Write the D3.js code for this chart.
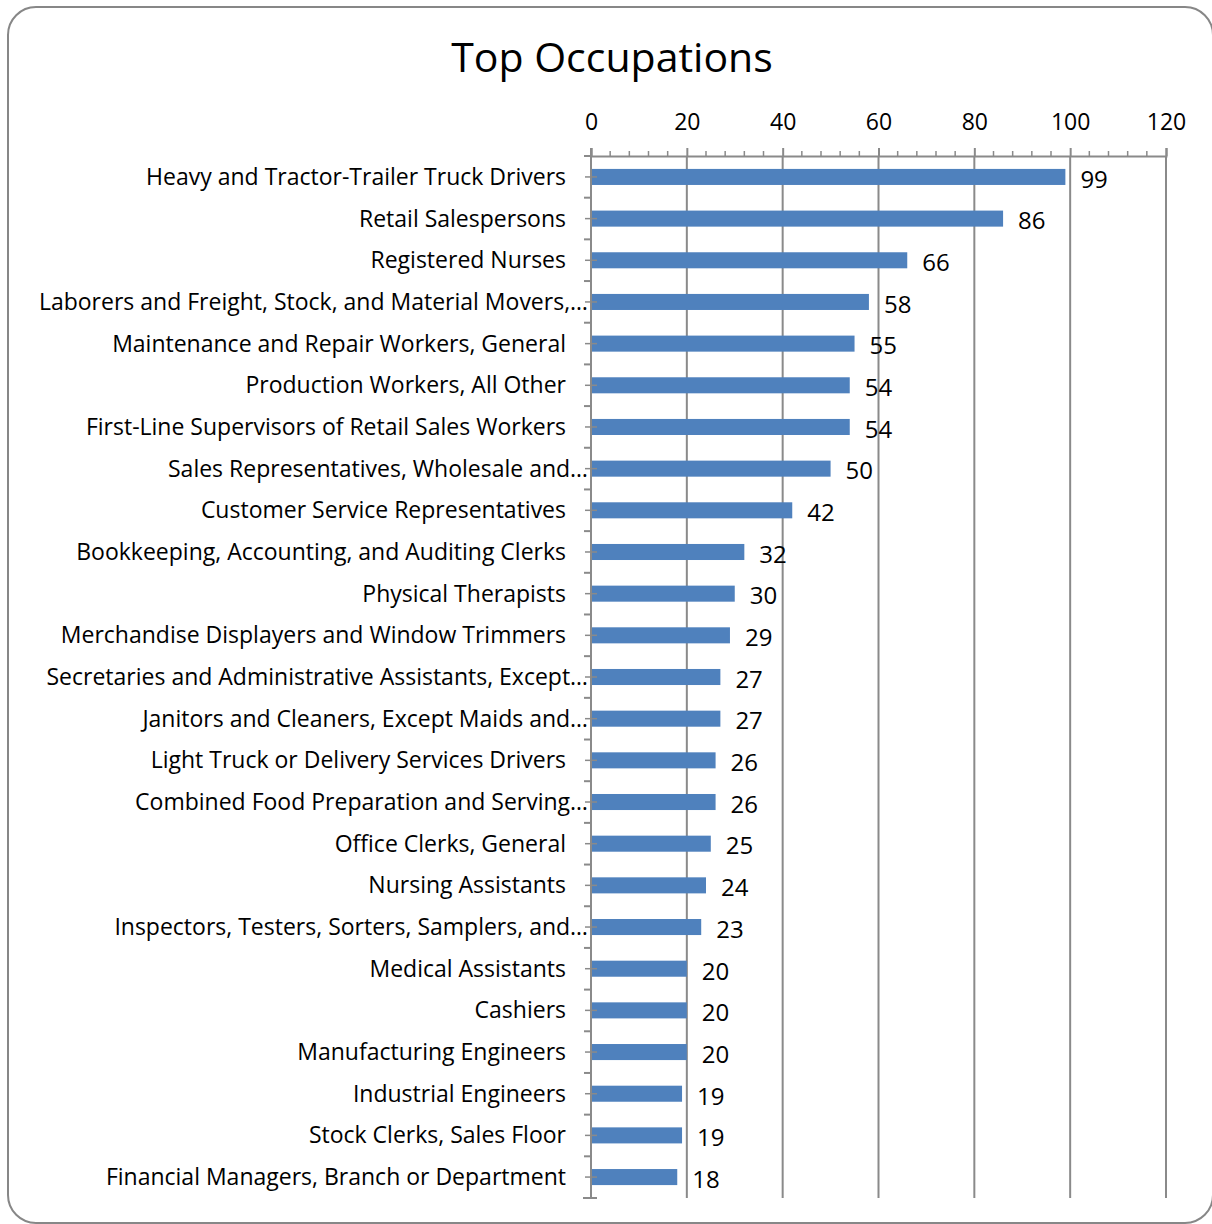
<!DOCTYPE html>
<html>
<head>
<meta charset="utf-8">
<script src="https://cdn.jsdelivr.net/npm/d3@7"></script>
<style>
  html, body { margin: 0; padding: 0; background: #fff; }
  svg { display: block; }
  text { font-family: "Open Sans", "Noto Sans", sans-serif; fill: #000; }
</style>
</head>
<body>
<svg id="chart" width="1212" height="1224"></svg>
<script>
const categories = [
  "Heavy and Tractor-Trailer Truck Drivers",
  "Retail Salespersons",
  "Registered Nurses",
  "Laborers and Freight, Stock, and Material Movers,…",
  "Maintenance and Repair Workers, General",
  "Production Workers, All Other",
  "First-Line Supervisors of Retail Sales Workers",
  "Sales Representatives, Wholesale and…",
  "Customer Service Representatives",
  "Bookkeeping, Accounting, and Auditing Clerks",
  "Physical Therapists",
  "Merchandise Displayers and Window Trimmers",
  "Secretaries and Administrative Assistants, Except…",
  "Janitors and Cleaners, Except Maids and…",
  "Light Truck or Delivery Services Drivers",
  "Combined Food Preparation and Serving…",
  "Office Clerks, General",
  "Nursing Assistants",
  "Inspectors, Testers, Sorters, Samplers, and…",
  "Medical Assistants",
  "Cashiers",
  "Manufacturing Engineers",
  "Industrial Engineers",
  "Stock Clerks, Sales Floor",
  "Financial Managers, Branch or Department"
];
const values = [99, 86, 66, 58, 55, 54, 54, 50, 42, 32, 30, 29, 27, 27, 26, 26, 25, 24, 23, 20, 20, 20, 19, 19, 18];
const majorTicks = [0, 20, 40, 60, 80, 100, 120];
const title = "Top Occupations";

(function () {
const svg = d3.select("#chart");
const gridColor = "#8a8a8a";

// outer rounded border
svg.append("rect")
  .attr("x", 8).attr("y", 7).attr("width", 1205).attr("height", 1216)
  .attr("rx", 28).attr("ry", 28)
  .attr("fill", "#fff").attr("stroke", "#878787").attr("stroke-width", 2);

svg.append("text")
  .attr("x", 612).attr("y", 72)
  .attr("text-anchor", "middle")
  .attr("font-size", 41)
  .text(title);

const pLeft = 591, pRight = 1166, pTop = 156, pBottom = 1198;
const x = d3.scaleLinear().domain([0, 120]).range([pLeft, pRight]);
const y = d3.scaleBand().domain(categories).range([pTop, pBottom]).paddingInner(0.615).paddingOuter(0.31);

// gridlines
svg.append("g").selectAll("line").data(majorTicks.slice(1)).join("line")
  .attr("x1", d => x(d)).attr("x2", d => x(d))
  .attr("y1", pTop).attr("y2", pBottom)
  .attr("stroke", gridColor).attr("stroke-width", 2);

// top axis
const xAxis = d3.axisTop(x).tickValues(majorTicks).tickSize(8).tickPadding(18).tickFormat(d3.format("d"));
const gx = svg.append("g").attr("transform", `translate(0,${pTop})`).call(xAxis);
gx.select(".domain").attr("stroke", gridColor).attr("stroke-width", 2);
gx.selectAll(".tick line").attr("stroke", gridColor).attr("stroke-width", 2);
gx.selectAll(".tick text").attr("font-size", 23).attr("font-family", "'Open Sans', sans-serif").attr("fill", "#000");

// minor ticks
const minor = d3.range(0, 121, 4).filter(d => d % 20 !== 0);
svg.append("g").selectAll("line").data(minor).join("line")
  .attr("x1", d => x(d)).attr("x2", d => x(d))
  .attr("y1", pTop - 5).attr("y2", pTop)
  .attr("stroke", gridColor).attr("stroke-width", 1.5);

// left axis line
svg.append("line")
  .attr("x1", pLeft).attr("x2", pLeft).attr("y1", pTop - 8).attr("y2", pBottom)
  .attr("stroke", gridColor).attr("stroke-width", 2);

// band boundary ticks
const n = categories.length;
const boundaries = d3.range(n + 1).map(i => pTop + i * ((pBottom - pTop) / n));
svg.append("g").selectAll("line").data(boundaries).join("line")
  .attr("x1", (d, i) => i === n ? pLeft - 8 : pLeft - 7)
  .attr("x2", (d, i) => i === n ? pLeft + 6 : pLeft)
  .attr("y1", d => d).attr("y2", d => d)
  .attr("stroke", gridColor).attr("stroke-width", 2);

// bars
svg.append("g").selectAll("rect").data(values).join("rect")
  .attr("x", x(0) + 1)
  .attr("y", (d, i) => y(categories[i]))
  .attr("width", d => x(d) - x(0) - 1)
  .attr("height", y.bandwidth())
  .attr("fill", "#4f81bd");

// center ticks
svg.append("g").selectAll("line").data(categories).join("line")
  .attr("x1", pLeft - 6).attr("x2", pLeft + 6)
  .attr("y1", d => y(d) + y.bandwidth() / 2).attr("y2", d => y(d) + y.bandwidth() / 2)
  .attr("stroke", gridColor).attr("stroke-width", 1.5);

// category labels
svg.append("g").selectAll("text").data(categories).join("text")
  .attr("x", d => d.endsWith("…") ? 588 : 566)
  .attr("y", d => y(d) + y.bandwidth() / 2)
  .attr("dy", "0.35em")
  .attr("text-anchor", "end")
  .attr("font-size", 23)
  .text(d => d);

// value labels
svg.append("g").selectAll("text").data(values).join("text")
  .attr("x", d => x(d) + 15)
  .attr("y", (d, i) => y(categories[i]) + y.bandwidth() / 2)
  .attr("dy", "0.45em")
  .attr("font-size", 24)
  .text(d => d);
})();
</script>
</body>
</html>
